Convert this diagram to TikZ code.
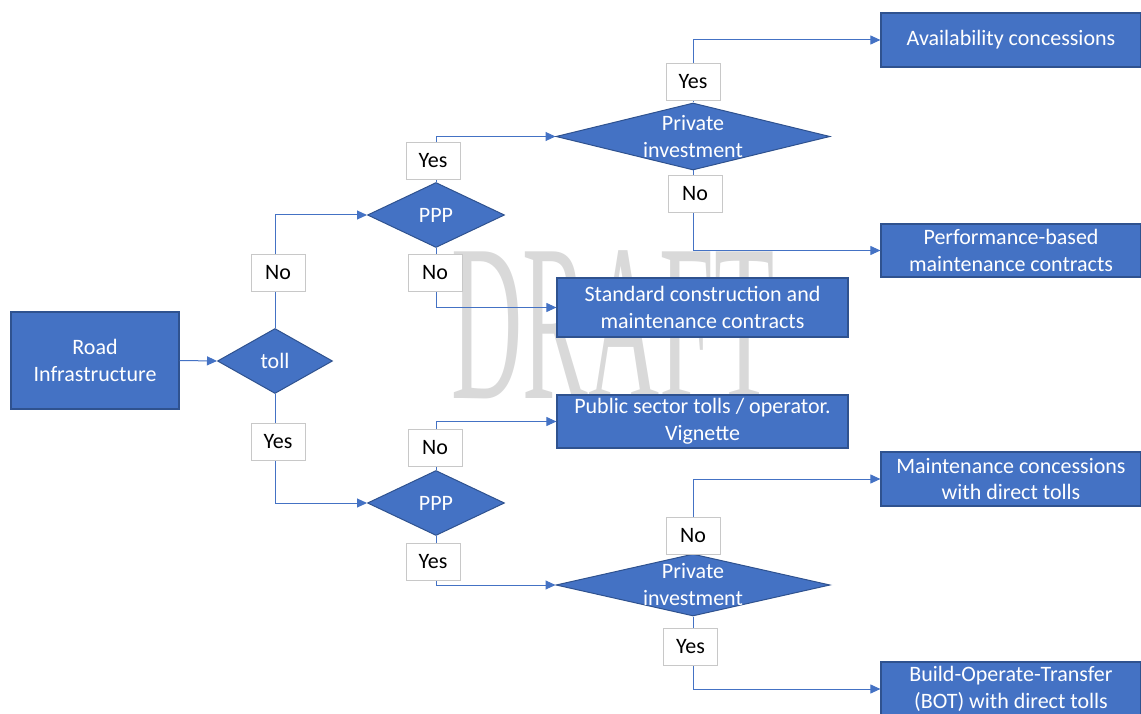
\documentclass[tikz,border=0pt]{standalone}
\usepackage{fontspec}
\usepackage{graphicx}
\setmainfont{Carlito}
\newfontfamily\wmfont{Liberation Serif}
\usetikzlibrary{shapes.geometric,arrows.meta}
\definecolor{boxfill}{HTML}{4472C4}
\definecolor{boxline}{HTML}{2F528F}
\definecolor{connc}{HTML}{4472C4}
\definecolor{lblline}{HTML}{C8C8C8}
\definecolor{wm}{HTML}{D9D9D9}
\begin{document}
\begin{tikzpicture}[x=1pt,y=-1pt,
 every node/.style={font=\fontsize{22}{26.8}\selectfont},
 proc/.style={rectangle,draw=boxline,line width=1.2pt,fill=boxfill,text=white,align=center,inner sep=0pt},
 dec/.style={diamond,draw=boxline,line width=1pt,fill=boxfill,inner sep=0pt},
 dectext/.style={text=white,align=center,inner sep=0pt},
 lbl/.style={rectangle,draw=lblline,line width=0.6pt,fill=white,text=black,minimum width=54pt,minimum height=37pt,inner sep=0pt},
 conn/.style={draw=connc,line width=1pt,-{Triangle[length=10pt,width=9pt]}},
]
\useasboundingbox (0,0) rectangle (1141,714);
% watermark
\node[inner sep=0pt,text=wm] (wmark) at (613,325) {\scalebox{0.44}[1]{\wmfont\fontsize{224}{224}\selectfont DRAFT}};
% shapes
\node[proc,minimum width=168pt,minimum height=97pt] (road) at (95,360.5) {Road\\Infrastructure};
\node[dec,minimum width=115pt,minimum height=65pt] (toll) at (275,361) {};
\node[dectext] (tolltxt) at (toll) {toll};
\node[dec,minimum width=137pt,minimum height=65pt] (ppp1) at (436,215) {};
\node[dectext] (ppp1txt) at (ppp1) {PPP};
\node[dec,minimum width=137pt,minimum height=65pt] (ppp2) at (436,503) {};
\node[dectext] (ppp2txt) at (ppp2) {PPP};
\node[dec,minimum width=274pt,minimum height=67pt] (pi1) at (693,136.5) {};
\node[dectext] (pi1txt) at (pi1) {Private\\investment};
\node[dec,minimum width=274pt,minimum height=62pt] (pi2) at (693,585) {};
\node[dectext] (pi2txt) at (693,584.5) {Private\\investment};
\node[proc,minimum width=260pt,minimum height=54pt] (avail) at (1011,40) {Availability concessions};
\node[proc,minimum width=260pt,minimum height=53pt] (perf) at (1011,250.5) {Performance-based\\maintenance contracts};
\node[proc,minimum width=291pt,minimum height=59pt] (std) at (702.5,307.5) {Standard construction and\\maintenance contracts};
\node[proc,minimum width=291pt,minimum height=53pt] (pub) at (702.5,421.5) {Public sector tolls / operator.\\Vignette};
\node[proc,minimum width=260pt,minimum height=54pt] (maint) at (1011,479) {Maintenance concessions\\with direct tolls};
\node[proc,minimum width=260pt,minimum height=54pt] (bot) at (1011,689) {Build-Operate-Transfer\\(BOT) with direct tolls};
% connectors
\draw[conn] (road.east) -- (toll.west);
\draw[conn] (toll.north) |- (ppp1.west);
\draw[conn] (toll.south) |- (ppp2.west);
\draw[conn] (ppp1.north) |- (pi1.west);
\draw[conn] (ppp1.south) |- (std.west);
\draw[conn] (ppp2.north) |- (pub.west);
\draw[conn] (ppp2.south) |- (pi2.west);
\draw[conn] (pi1.north) |- (avail.west);
\draw[conn] (pi1.south) |- (perf.west);
\draw[conn] (pi2.north) |- (maint.west);
\draw[conn] (pi2.south) |- (bot.west);
% labels
\node[lbl] (l1) at (278,273) {No};
\node[lbl] (l2) at (278,442) {Yes};
\node[lbl] (l3) at (433,160.5) {Yes};
\node[lbl] (l4) at (435,273) {No};
\node[lbl] (l5) at (435,448) {No};
\node[lbl] (l6) at (433,561.5) {Yes};
\node[lbl] (l7) at (693,82) {Yes};
\node[lbl] (l8) at (695,193.5) {No};
\node[lbl] (l9) at (693,535.5) {No};
\node[lbl] (l10) at (690.5,647) {Yes};
\end{tikzpicture}
\end{document}
